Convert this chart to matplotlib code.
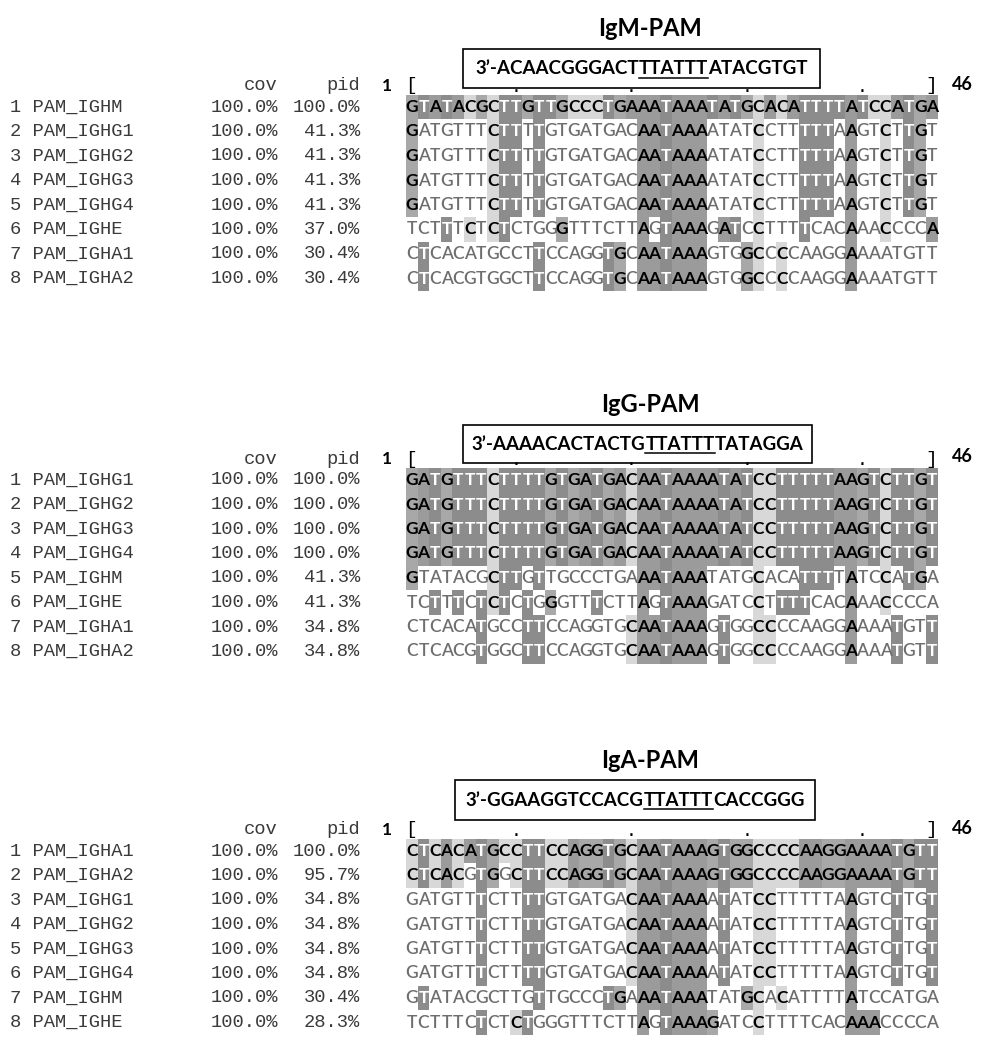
import matplotlib.pyplot as plt
from matplotlib.patches import Rectangle

# sekuens PAM (46 nt)
IGHM = "GTATACGCTTGTTGCCCTGAAATAAATATGCACATTTTATCCATGA"
IGHG = "GATGTTTCTTTTGTGATGACAATAAAATATCCTTTTTAAGTCTTGT"
IGHE = "TCTTTCTCTCTGGGTTTCTTAGTAAAGATCCTTTTCACAAACCCCA"
IGHA1 = "CTCACATGCCTTCCAGGTGCAATAAAGTGGCCCCAAGGAAAATGTT"
IGHA2 = "CTCACGTGGCTTCCAGGTGCAATAAAGTGGCCCCAAGGAAAATGTT"

seqs = {
    "PAM_IGHM": IGHM,
    "PAM_IGHG1": IGHG, "PAM_IGHG2": IGHG, "PAM_IGHG3": IGHG, "PAM_IGHG4": IGHG,
    "PAM_IGHE": IGHE,
    "PAM_IGHA1": IGHA1, "PAM_IGHA2": IGHA2,
}

titles = ["IgM-PAM", "IgG-PAM", "IgA-PAM"]
guides = [
    ("3\u2019-ACAACGGGACT", "TTATTT", "ATACGTGT"),
    ("3\u2019-AAAACACTACTG", "TTATTT", "TATAGGA"),
    ("3\u2019-GGAAGGTCCACG", "TTATTT", "CACCGGG"),
]

order_m = ["PAM_IGHM", "PAM_IGHG1", "PAM_IGHG2", "PAM_IGHG3", "PAM_IGHG4",
           "PAM_IGHE", "PAM_IGHA1", "PAM_IGHA2"]
cov_m = ["100.0%"] * 8
pid_m = ["100.0%", "41.3%", "41.3%", "41.3%", "41.3%", "37.0%", "30.4%", "30.4%"]

order_g = ["PAM_IGHG1", "PAM_IGHG2", "PAM_IGHG3", "PAM_IGHG4", "PAM_IGHM",
           "PAM_IGHE", "PAM_IGHA1", "PAM_IGHA2"]
cov_g = ["100.0%"] * 8
pid_g = ["100.0%", "100.0%", "100.0%", "100.0%", "41.3%", "41.3%", "34.8%", "34.8%"]

order_a = ["PAM_IGHA1", "PAM_IGHA2", "PAM_IGHG1", "PAM_IGHG2", "PAM_IGHG3",
           "PAM_IGHG4", "PAM_IGHM", "PAM_IGHE"]
cov_a = ["100.0%"] * 8
pid_a = ["100.0%", "95.7%", "34.8%", "34.8%", "34.8%", "34.8%", "30.4%", "28.3%"]

orders = [order_m, order_g, order_a]
covs = [cov_m, cov_g, cov_a]
pids = [pid_m, pid_g, pid_a]

# tata letak (piksel)
W, H = 982, 1037
X0, CW = 412.0, 11.55        # pusat kolom pertama, lebar kolom
RH = 24.5                    # tinggi baris
title_y = [28, 404, 760]
box_y = [(49, 88), (425, 463), (780, 820)]
box_x = [(463, 820), (463, 812), (455, 815)]
ruler_y = [86, 459, 830]

match_bg = {"T": "#8c8c8c", "A": "#9b9b9b", "G": "#a8a8a8", "C": "#d8d8d8"}
mono = "Liberation Mono"
sans = "Lato"
txt = "#3a3a3a"

fig = plt.figure(figsize=(W / 100, H / 100), dpi=100)
ax = fig.add_axes([0, 0, 1, 1])
ax.set_xlim(0, W)
ax.set_ylim(H, 0)
ax.axis("off")
fig.canvas.draw()
rend = fig.canvas.get_renderer()


def lebar(s, **kw):
    t = ax.text(0, 0, s, **kw)
    w = t.get_window_extent(rend).width
    t.remove()
    return w


for b in range(3):
    # judul
    ax.text(650, title_y[b], titles[b], ha="center", va="center",
            fontsize=17, fontweight="bold", family=sans, color="black")

    # kotak guide + garis bawah
    x1, x2 = box_x[b]
    y1, y2 = box_y[b]
    ax.add_patch(Rectangle((x1, y1), x2 - x1, y2 - y1, fill=False,
                           edgecolor="black", lw=1.2))
    kw = dict(fontsize=13.5, fontweight="bold", family=sans, color="black")
    parts = guides[b]
    total = sum(lebar(p, **kw) for p in parts)
    x = (x1 + x2) / 2 - total / 2
    ym = (y1 + y2) / 2
    for i, p in enumerate(parts):
        ax.text(x, ym, p, ha="left", va="center", **kw)
        w = lebar(p, **kw)
        if i == 1:
            ax.plot([x, x + w], [ym + 9, ym + 9], color="black", lw=1.1)
        x += w

    # header + ruler
    ry = ruler_y[b]
    ax.text(278, ry, "cov", ha="right", va="center", family=mono,
            fontsize=13.5, color=txt)
    ax.text(360, ry, "pid", ha="right", va="center", family=mono,
            fontsize=13.5, color=txt)
    ax.text(387, ry, "1", ha="center", va="center", family=sans,
            fontsize=12.5, fontweight="bold")
    ax.text(X0 - 1, ry, "[", ha="center", va="center", family=mono, fontsize=14)
    ax.text(X0 + 45 * CW, ry, "]", ha="center", va="center", family=mono, fontsize=14)
    ax.text(952, ry - 2, "46", ha="left", va="center", family=sans,
            fontsize=13, fontweight="bold")
    for k in (10, 20, 30, 40):
        ax.text(X0 + (k - 1) * CW, ry + 6, ".", ha="center", va="baseline",
                family=mono, fontsize=13)

    # baris alignment
    ref = seqs[orders[b][0]]
    for r, name in enumerate(orders[b]):
        y = ry + 21 + r * RH
        ax.text(10, y, f"{r + 1} {name}", ha="left", va="center",
                family=mono, fontsize=13.5, color=txt)
        ax.text(278, y, covs[b][r], ha="right", va="center",
                family=mono, fontsize=13.5, color=txt)
        ax.text(360, y, pids[b][r], ha="right", va="center",
                family=mono, fontsize=13.5, color=txt)
        s = seqs[name]
        for c, ch in enumerate(s):
            xc = X0 + c * CW
            if ch == ref[c]:
                ax.add_patch(Rectangle((xc - CW / 2, y - RH / 2), CW, RH,
                                       facecolor=match_bg[ch], edgecolor="none"))
                fg = "white" if ch == "T" else "black"
                ax.text(xc, y, ch, ha="center", va="center", family=sans,
                        fontsize=12.5, fontweight="bold", color=fg)
            else:
                ax.text(xc, y, ch, ha="center", va="center", family=sans,
                        fontsize=12.5, fontweight="semibold", color="#6e6e6e")

fig.savefig("out.png", dpi=100)
